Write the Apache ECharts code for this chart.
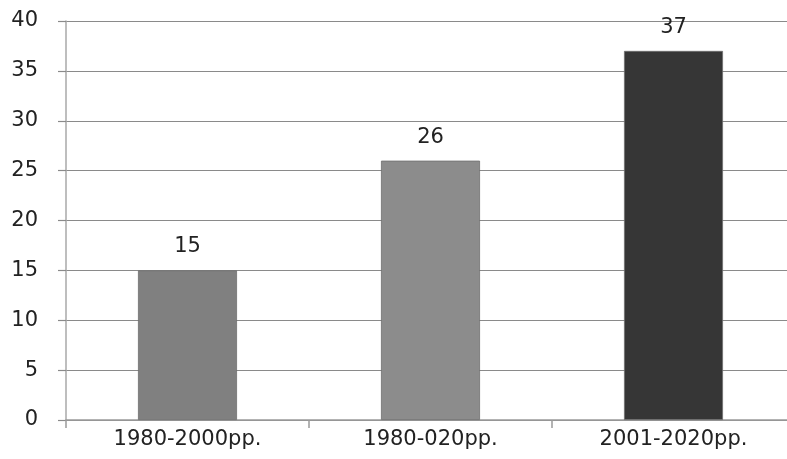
<!DOCTYPE html>
<html>
<head>
<meta charset="utf-8">
<script src="https://cdn.jsdelivr.net/npm/echarts@6/dist/echarts.min.js"></script>
<style>
  html, body { margin: 0; padding: 0; background: #fff; overflow: hidden; width: 787px; height: 459px; }
  #chart { width: 796px; height: 459px; }
</style>
</head>
<body>
<div id="chart"></div>
<script>
// Number of items per period
const categories = ['1980-2000pp.', '1980-020pp.', '2001-2020pp.'];
const values = [15, 26, 37];
const barColors = ['#808080', '#8c8c8c', '#363636'];
const yTicks = { min: 0, max: 40, interval: 5 };

const chart = echarts.init(document.getElementById('chart'));
const font = 'DejaVu Sans, Verdana, sans-serif';

chart.setOption({
  animation: false,
  backgroundColor: '#ffffff',
  grid: { left: 66, top: 21, right: 1, bottom: 39 },
  xAxis: {
    type: 'category',
    data: categories,
    axisLine: { lineStyle: { color: '#9a9a9a', width: 1.5 } },
    axisTick: { show: true, alignWithLabel: false, length: 8, lineStyle: { color: '#9a9a9a', width: 1.5 } },
    axisLabel: { color: '#222', fontSize: 21, fontFamily: font, margin: 9 }
  },
  yAxis: {
    type: 'value',
    min: yTicks.min,
    max: yTicks.max,
    interval: yTicks.interval,
    axisLine: { show: true, lineStyle: { color: '#a8a8a8', width: 1.5 } },
    axisTick: { show: true, length: 8, lineStyle: { color: '#8a8a8a', width: 1.2 } },
    splitLine: { lineStyle: { color: '#8a8a8a', width: 1.2 } },
    axisLabel: { color: '#222', fontSize: 21, fontFamily: font, margin: 28 }
  },
  series: [{
    type: 'bar',
    barWidth: 99,
    data: values.map((v, i) => ({
      value: v,
      itemStyle: { color: barColors[i], borderColor: '#6e6e6e', borderWidth: 0.8 }
    })),
    label: {
      show: true,
      position: 'top',
      distance: 13,
      color: '#222',
      fontSize: 21,
      fontFamily: font
    }
  }]
});
</script>
</body>
</html>
